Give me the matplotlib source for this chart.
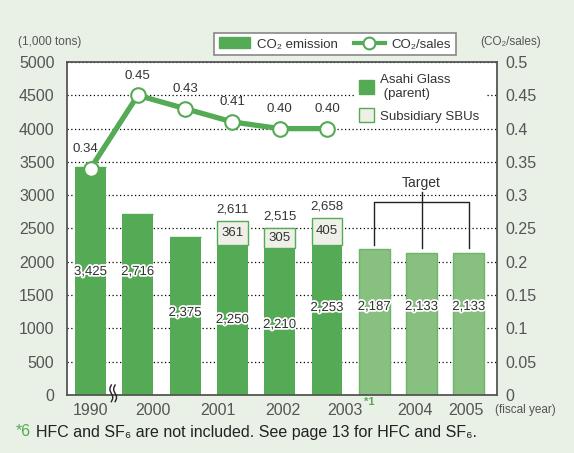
import numpy as np
import matplotlib.pyplot as plt
import matplotlib.patheffects as pe
from matplotlib.patches import Patch
from matplotlib.lines import Line2D

plt.rcParams['font.family'] = ['Liberation Sans', 'DejaVu Sans']

# data
parent = [3425, 2716, 2375, 2250, 2210, 2253]
subsid = [0, 0, 0, 361, 305, 405]
totals = [None, None, None, '2,611', '2,515', '2,658']
target = [2187, 2133, 2133]
ratio = [0.34, 0.45, 0.43, 0.41, 0.40, 0.40]
year_labels = ['1990', '2000', '2001', '2002', '2003', '2004', '2005']

# layout
year_pos = [0, 1.33, 2.7, 4.07, 5.38, 6.86, 7.94]
label_y = [1847, 1847, 1231, 1126, 1051, 1306, 1321, 1321, 1321]

GREEN = '#55aa55'
LIGHT = '#88c080'
SUBC = '#eef0e8'
BG = '#e9f0e6'
GRAY = '#555555'
TXT = '#333333'

fig = plt.figure(figsize=(5.74, 4.53), dpi=100, facecolor=BG)
ax = fig.add_axes([67/574, 1-395/453, 430/574, 333/453])
ax.set_facecolor('white')

n = len(parent)
x = np.arange(n)
xt = np.arange(n, n + len(target))
w = 0.655

ax.bar(x, parent, w, color=GREEN, zorder=2)
ax.bar(x, subsid, w, bottom=parent, color=SUBC, edgecolor=GREEN, linewidth=1, zorder=2)
ax.bar(xt, target, w, color=LIGHT, edgecolor='#6fb46a', linewidth=1, zorder=2)

stroke = [pe.withStroke(linewidth=2.5, foreground='white')]
vals = parent + target
for i, v in enumerate(vals):
    ax.text(i, label_y[i], f'{v:,}', ha='center', va='center', fontsize=9.5,
            color=TXT, path_effects=stroke, zorder=5)
for i in range(n):
    if subsid[i]:
        ax.text(i, parent[i] + subsid[i] / 2, str(subsid[i]), ha='center', va='center',
                fontsize=9.5, color=TXT, zorder=5)
        ax.text(i, parent[i] + subsid[i] + 170, totals[i], ha='center', va='center',
                fontsize=9.5, color=TXT, zorder=5)

# target bracket
ax.plot([xt[0], xt[0], xt[-1], xt[-1]], [target[0] + 60, 2900, 2900, target[-1] + 80],
        color='#222222', lw=1, zorder=3)
ax.plot([xt[1], xt[1]], [target[1] + 80, 3050], color='#222222', lw=1, zorder=3)
ax.text(xt[1], 3190, 'Target', ha='center', va='center', fontsize=10, color=TXT)

ax.set_xlim(-0.497, 8.594)
ax.set_ylim(0, 5000)
ax.set_yticks(np.arange(0, 5001, 500))
ax.yaxis.grid(True, color='black', linestyle=(0, (1, 2)), lw=0.9)
ax.set_axisbelow(True)
ax.set_xticks(year_pos)
ax.set_xticklabels(year_labels)
ax.tick_params(axis='both', length=0, labelsize=11.5, labelcolor=GRAY)
ax.tick_params(axis='y', pad=9)
ax.tick_params(axis='x', pad=6)
for s in ax.spines.values():
    s.set_color(GRAY)
    s.set_linewidth(1.3)

ax2 = ax.twinx()
ax2.set_ylim(0, 0.5)
ax2.set_yticks(np.arange(0, 0.51, 0.05))
ax2.set_yticklabels(['0', '0.05', '0.1', '0.15', '0.2', '0.25', '0.3', '0.35', '0.4', '0.45', '0.5'])
ax2.tick_params(axis='y', length=0, labelsize=11.5, labelcolor=GRAY, pad=6)
for s in ax2.spines.values():
    s.set_visible(False)
ax2.plot(x, ratio, color=GREEN, lw=3.8, marker='o', ms=10.5, mfc='white', mec=GREEN,
         mew=1.5, zorder=4)
for i, r in enumerate(ratio):
    dx = -4 if i == 0 else 0
    ax2.annotate(f'{r:.2f}', (i, r), xytext=(dx, 14), textcoords='offset points',
                 ha='center', va='center', fontsize=9.5, color=TXT)

# axis break mark
t = np.linspace(0, 1, 40)
for xb in [0.44, 0.52]:
    ax.plot(xb + 0.03 * np.sin(t * 2 * np.pi), -100 + 250 * t, color='#222222', lw=1,
            clip_on=False, zorder=6)

# inner legend
h_in = [Patch(facecolor=GREEN, edgecolor=GREEN),
        Patch(facecolor=SUBC, edgecolor=GREEN)]
leg = ax2.legend(h_in, ['Asahi Glass\n (parent)', 'Subsidiary SBUs'], loc='upper left',
                 bbox_to_anchor=(0.655, 0.995), frameon=True, fancybox=False,
                 facecolor='white', edgecolor='white', framealpha=1, fontsize=9.5,
                 handlelength=1.1, handleheight=1.3, handletextpad=0.5,
                 labelspacing=0.6, borderpad=0.3)
for tx in leg.get_texts():
    tx.set_color(TXT)
    tx.set_fontweight('medium')

# top legend
h_top = [Patch(facecolor=GREEN, edgecolor=GREEN),
         Line2D([0], [0], color=GREEN, lw=3, marker='o', ms=8.5, mfc='white', mec=GREEN, mew=1.5)]
lg = fig.legend(h_top, ['CO₂ emission', 'CO₂/sales'], loc='center', ncol=2,
                bbox_to_anchor=(335/574, 1-44/453), frameon=True, fancybox=False,
                facecolor='white', edgecolor='#888888', framealpha=1, fontsize=9.5,
                handlelength=2.4, handleheight=0.9, handletextpad=0.5, columnspacing=1.2,
                borderpad=0.35)
lg.get_frame().set_linewidth(1.2)
for tx in lg.get_texts():
    tx.set_color(TXT)

fig.text(18/574, 1-42/453, '(1,000 tons)', fontsize=8.5, color=GRAY, va='center')
fig.text(480/574, 1-42/453, '(CO₂/sales)', fontsize=8.5, color=GRAY, va='center')
fig.text(495/574, 1-410/453, '(fiscal year)', fontsize=8.5, color=GRAY, va='center')
fig.text(364/574, 1-402/453, '*1', fontsize=8, color=GREEN, va='center', fontweight='bold')
fig.text(16/574, 1-432/453, '*6', fontsize=11.5, color=GREEN, va='center')
fig.text(36/574, 1-432/453, 'HFC and SF₆ are not included. See page 13 for HFC and SF₆.',
         fontsize=11.5, color='#222222', va='center')

fig.savefig('out.png', dpi=100, facecolor=BG)
